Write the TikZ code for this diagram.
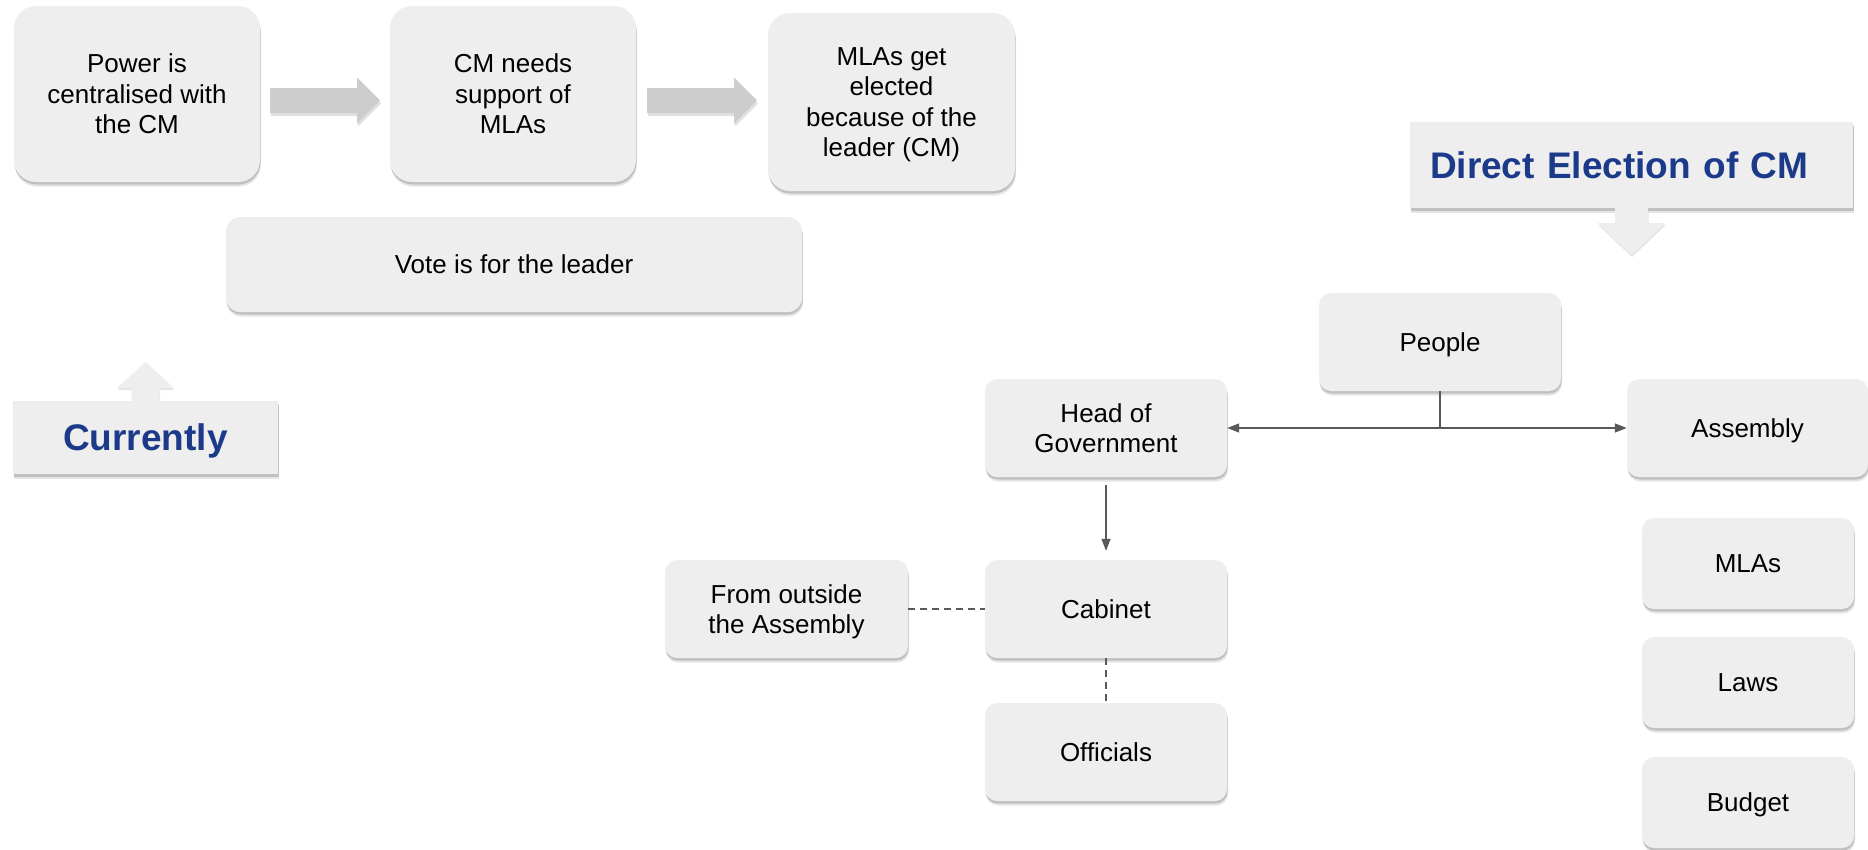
\documentclass[tikz,border=0pt]{standalone}
\usepackage{fontspec}
\setmainfont{Liberation Sans}
\usetikzlibrary{shadows,arrows.meta,calc}
\definecolor{boxfill}{HTML}{EEEEEE}
\definecolor{arrowfill}{HTML}{CDCDCD}
\definecolor{titleblue}{RGB}{28,58,138}
\definecolor{linegray}{HTML}{595959}
\tikzset{
  softshadow/.style={
    drop shadow={shadow xshift=1pt, shadow yshift=-4.5pt, fill=black, opacity=0.10},
    drop shadow={shadow xshift=0.5pt, shadow yshift=-2.5pt, fill=black, opacity=0.16}},
  card/.style={softshadow, fill=boxfill, rounded corners=#1, inner sep=0pt,
    align=center, text=black, text depth=0pt, font=\fontsize{26}{30.5}\selectfont},
  titlebox/.style={softshadow, fill=boxfill, inner sep=0pt, text depth=0pt,
    font=\fontsize{37}{44}\selectfont\bfseries, text=titleblue},
  blockarrow/.style={fill=arrowfill,
    drop shadow={shadow xshift=1pt, shadow yshift=-3pt, fill=black, opacity=0.12}},
  callarrow/.style={fill=boxfill,
    drop shadow={shadow xshift=0.5pt, shadow yshift=-2pt, fill=black, opacity=0.10}},
  conn/.style={draw=linegray, line width=1.3pt},
  conntip/.style={conn, -{Triangle[length=12pt,width=9pt]}},
  dashconn/.style={conn, dash pattern=on 7pt off 5pt}
}
\begin{document}
\begin{tikzpicture}[x=1pt,y=-1pt]
\useasboundingbox (0,0) rectangle (1868,849);

% ---- left part: current situation ----
\node[card=22pt, minimum width=246pt, minimum height=176pt] (b1) at (137,94)
  {Power is\\centralised with\\the CM};
\node[card=22pt, minimum width=246pt, minimum height=176pt] (b2) at (513,94)
  {CM needs\\support of\\MLAs};
\node[card=22pt, minimum width=247pt, minimum height=178pt] (b3) at (891.5,102)
  {MLAs get\\elected\\because of the\\leader (CM)};
\fill[blockarrow] ($(b1.east)+(10,6.5)$) ++(0,-12.5) -- ++(87,0) -- ++(0,-10.5)
  -- ++(23,23) -- ++(-23,23) -- ++(0,-10.5) -- ++(-87,0) -- cycle;
\fill[blockarrow] ($(b2.east)+(11,6.5)$) ++(0,-12.5) -- ++(87,0) -- ++(0,-10.5)
  -- ++(23,23) -- ++(-23,23) -- ++(0,-10.5) -- ++(-87,0) -- cycle;
\node[card=14pt, minimum width=576pt, minimum height=95pt] (vote) at (514,264.5)
  {Vote is for the leader};

\fill[callarrow] ($(145.5,401)$) ++(-14,0) -- ++(0,-13) -- ++(-14.5,0)
  -- ++(28.5,-26) -- ++(28.5,26) -- ++(-14.5,0) -- ++(0,13) -- cycle;
\node[titlebox, minimum width=265pt, minimum height=73pt] (cur) at (145.5,437.5) {Currently};

% ---- right part: direct election ----
\node[titlebox, minimum width=443pt, minimum height=86pt, text width=403pt, align=left]
  (dec) at (1631.5,165) {Direct Election of CM};
\fill[callarrow] (dec.south) ++(-16.5,0) -- ++(0,15) -- ++(-17,0) -- ++(33.5,32)
  -- ++(33.5,-32) -- ++(-17,0) -- ++(0,-15) -- cycle;

\node[card=12pt, minimum width=242pt, minimum height=98pt] (people) at (1440,342) {People};
\node[card=12pt, minimum width=242pt, minimum height=98pt] (hog) at (1106,428) {Head of\\Government};
\node[card=12pt, minimum width=241pt, minimum height=98pt] (asm) at (1747.5,428) {Assembly};
\node[card=12pt, minimum width=242pt, minimum height=98pt] (cab) at (1106,609) {Cabinet};
\node[card=12pt, minimum width=243pt, minimum height=98pt] (out) at (786.5,609) {From outside\\the Assembly};
\node[card=12pt, minimum width=242pt, minimum height=98pt] (off) at (1106,752) {Officials};
\node[card=12pt, minimum width=212pt, minimum height=91pt] (mlas) at (1748,563.5) {MLAs};
\node[card=12pt, minimum width=212pt, minimum height=91pt] (laws) at (1748,682.5) {Laws};
\node[card=12pt, minimum width=212pt, minimum height=91pt] (budget) at (1748,802.5) {Budget};

\coordinate (j) at (people.south |- hog.east);
\draw[conn] (people.south) -- (j);
\draw[conntip] (j) -- (hog.east);
\draw[conntip] (j) -- (asm.west);
\draw[conntip, shorten <=8pt, shorten >=9pt] (hog.south) -- (cab.north);
\draw[dashconn] (out.east) -- (cab.west);
\draw[dashconn] (cab.south) -- (off.north);
\end{tikzpicture}
\end{document}
